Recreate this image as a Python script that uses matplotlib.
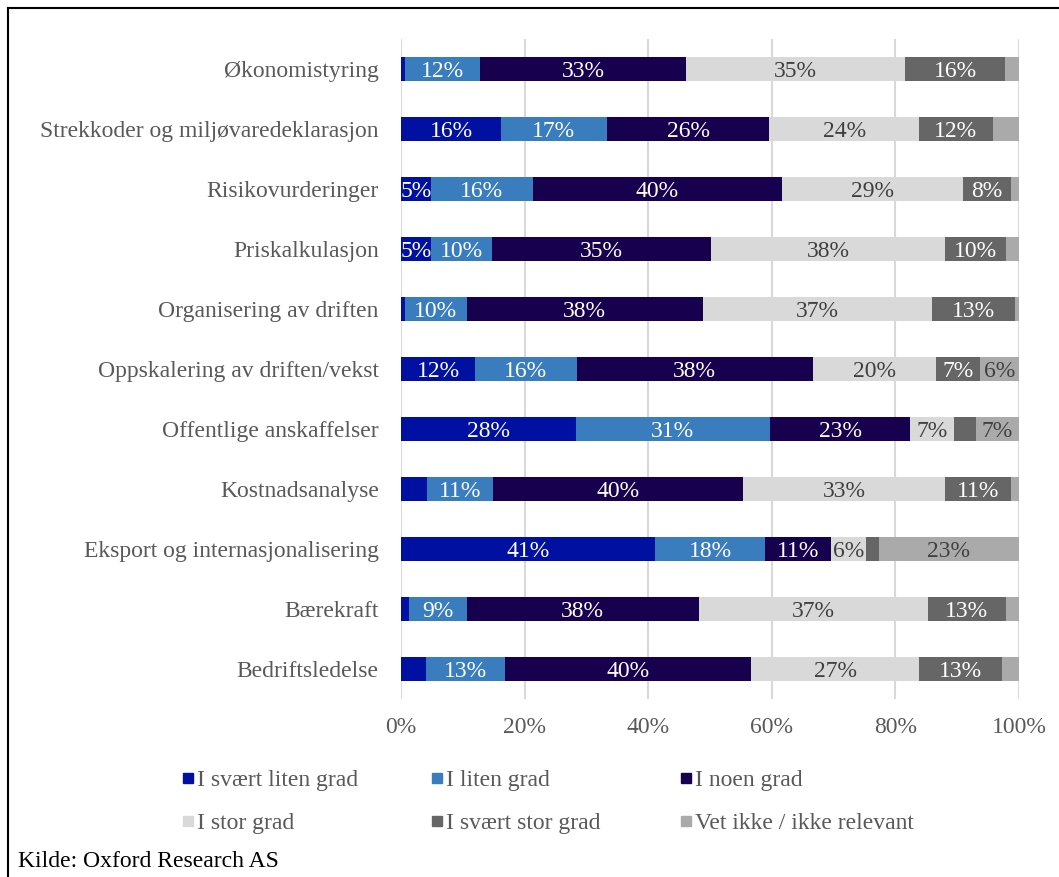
import matplotlib
matplotlib.use("Agg")
import matplotlib.pyplot as plt
from matplotlib.patches import Rectangle
from matplotlib.lines import Line2D

plt.rcParams['font.family'] = ['Liberation Serif', 'DejaVu Serif']

categories = ['Økonomistyring', 'Strekkoder og miljøvaredeklarasjon', 'Risikovurderinger',
              'Priskalkulasjon', 'Organisering av driften', 'Oppskalering av driften/vekst',
              'Offentlige anskaffelser', 'Kostnadsanalyse', 'Eksport og internasjonalisering',
              'Bærekraft', 'Bedriftsledelse']

series = ['I svært liten grad', 'I liten grad', 'I noen grad',
          'I stor grad', 'I svært stor grad', 'Vet ikke / ikke relevant']

# percent per category, one list per series
svaert_liten = [0.7, 16.2, 4.9, 4.9, 0.6, 12.0, 28.3, 4.2, 41.1, 1.3, 4.1]
liten        = [12.1, 17.1, 16.4, 9.9, 10.0, 16.4, 31.4, 10.7, 17.8, 9.3, 12.8]
noen         = [33.3, 26.3, 40.4, 35.4, 38.3, 38.3, 22.7, 40.4, 10.7, 37.6, 39.8]
stor         = [35.4, 24.2, 29.2, 37.9, 37.0, 19.9, 7.1, 32.8, 5.6, 37.0, 27.1]
svaert_stor  = [16.3, 12.0, 7.8, 9.8, 13.4, 7.1, 3.5, 10.6, 2.1, 12.7, 13.4]
vet_ikke     = [2.2, 4.2, 1.3, 2.1, 0.7, 6.3, 7.0, 1.3, 22.7, 2.1, 2.8]

colors = ['#0010A0', '#3A7DBF', '#17004E', '#D9D9D9', '#666666', '#AAAAAA']
label_colors = ['white', 'white', 'white', '#404040', 'white', '#404040']

W, H = 1059, 877
fig = plt.figure(figsize=(W / 100, H / 100), dpi=100)
ax = fig.add_axes([401 / W, 1 - 699 / H, 618 / W, 660 / H])

ypos = list(range(len(categories)))
left = [0.0] * len(categories)
all_series = [svaert_liten, liten, noen, stor, svaert_stor, vet_ikke]
for k, vals in enumerate(all_series):
    ax.barh(ypos, vals, left=left, height=0.4, color=colors[k], zorder=3)
    for i, v in enumerate(vals):
        if round(v) >= 5:
            ax.text(left[i] + v / 2, i, f'{round(v)}%', ha='center', va='center_baseline',
                    fontsize=17, color=label_colors[k], zorder=4)
    left = [a + b for a, b in zip(left, vals)]

ax.set_xlim(0, 100)
ax.set_ylim(len(categories) - 0.5, -0.5)
ax.set_xticks(range(0, 101, 20))
ax.set_xticklabels([f'{t}%' for t in range(0, 101, 20)])
ax.set_yticks(ypos)
ax.set_yticklabels(categories)
ax.tick_params(axis='x', length=0, pad=13, labelsize=17, labelcolor='#595959')
ax.tick_params(axis='y', length=0, pad=16, labelsize=17, labelcolor='#595959')
ax.grid(axis='x', color='#D9D9D9', linewidth=1.5, zorder=0)
for s in ax.spines.values():
    s.set_visible(False)

# legend, two rows of three
leg_x = [183, 432, 681]
leg_y = [778, 821]
for k, name in enumerate(series):
    cx = leg_x[k % 3]
    cy = leg_y[k // 3]
    fig.add_artist(Rectangle((cx / W, 1 - (cy + 5) / H), 10 / W, 10 / H,
                             transform=fig.transFigure, color=colors[k]))
    fig.text((cx + 14) / W, 1 - cy / H, name, ha='left', va='center_baseline',
             fontsize=17, color='#595959')

fig.text(18 / W, 1 - 867 / H, 'Kilde: Oxford Research AS', ha='left', va='baseline',
         fontsize=17, color='black')

# frame lines
fig.add_artist(Line2D([8 / W, 1], [1 - 8 / H, 1 - 8 / H], transform=fig.transFigure,
                      color='black', linewidth=1.5))
fig.add_artist(Line2D([8 / W, 8 / W], [1 - 8 / H, 0], transform=fig.transFigure,
                      color='black', linewidth=1.5))

fig.savefig('out.png', dpi=100)
